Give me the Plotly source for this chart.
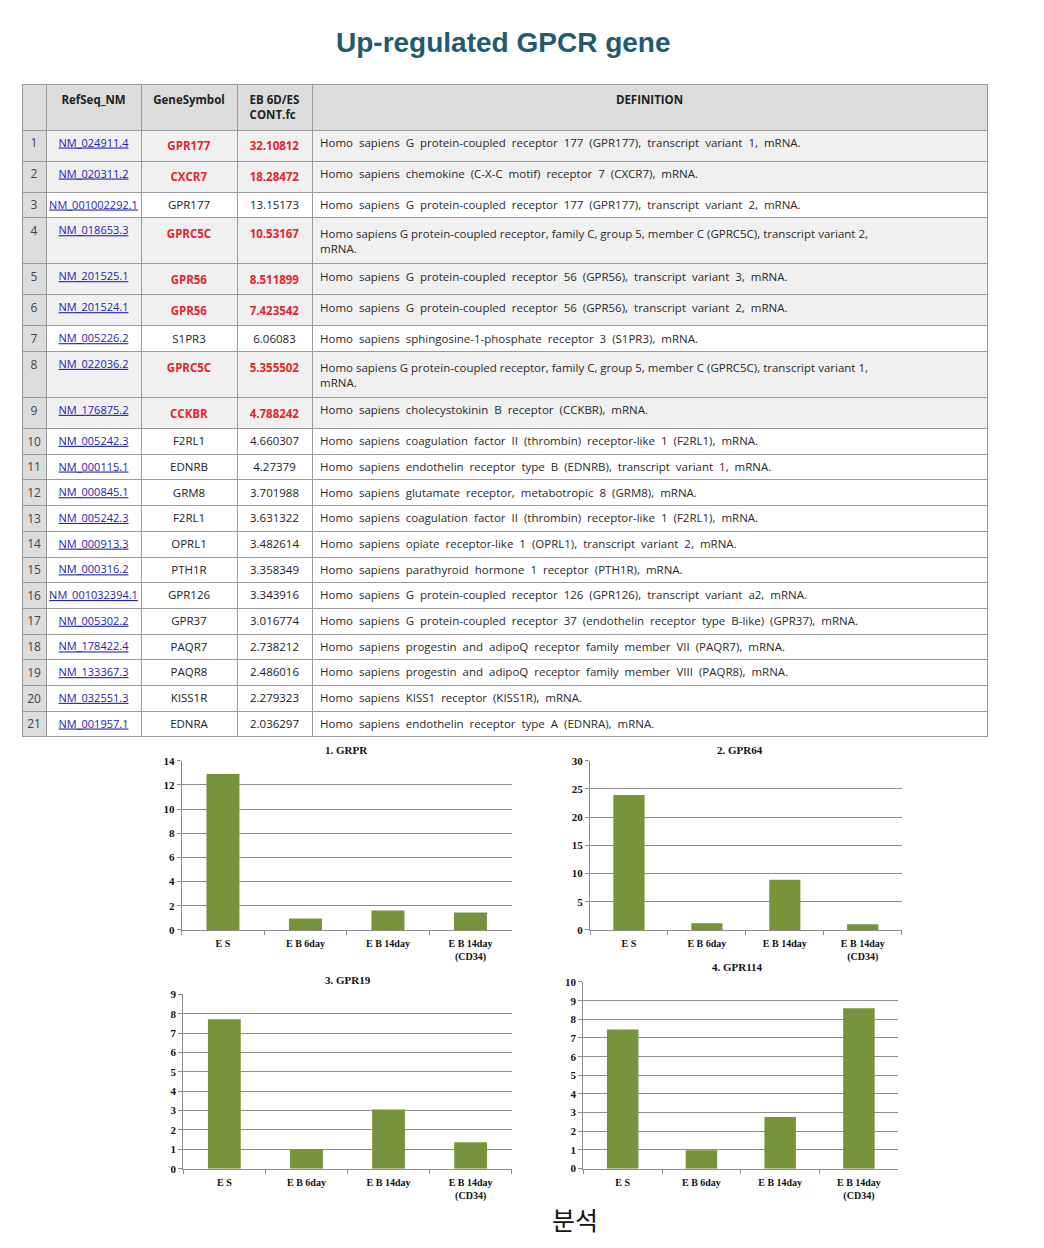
import plotly.graph_objects as go

# ---- table data ----
row_no = list(range(1, 22))
refseq = [
    "NM_024911.4", "NM_020311.2", "NM_001002292.1", "NM_018653.3", "NM_201525.1",
    "NM_201524.1", "NM_005226.2", "NM_022036.2", "NM_176875.2", "NM_005242.3",
    "NM_000115.1", "NM_000845.1", "NM_005242.3", "NM_000913.3", "NM_000316.2",
    "NM_001032394.1", "NM_005302.2", "NM_178422.4", "NM_133367.3", "NM_032551.3",
    "NM_001957.1",
]
gene_symbol = [
    "GPR177", "CXCR7", "GPR177", "GPRC5C", "GPR56", "GPR56", "S1PR3", "GPRC5C",
    "CCKBR", "F2RL1", "EDNRB", "GRM8", "F2RL1", "OPRL1", "PTH1R", "GPR126",
    "GPR37", "PAQR7", "PAQR8", "KISS1R", "EDNRA",
]
fold_change = [
    32.10812, 18.28472, 13.15173, 10.53167, 8.511899, 7.423542, 6.06083, 5.355502,
    4.788242, 4.660307, 4.27379, 3.701988, 3.631322, 3.482614, 3.358349, 3.343916,
    3.016774, 2.738212, 2.486016, 2.279323, 2.036297,
]
highlighted = [1, 1, 0, 1, 1, 1, 0, 1, 1, 0, 0, 0, 0, 0, 0, 0, 0, 0, 0, 0, 0]
definition = [
    "Homo sapiens G protein-coupled receptor 177 (GPR177), transcript variant 1, mRNA.",
    "Homo sapiens chemokine (C-X-C motif) receptor 7 (CXCR7), mRNA.",
    "Homo sapiens G protein-coupled receptor 177 (GPR177), transcript variant 2, mRNA.",
    "Homo sapiens G protein-coupled receptor, family C, group 5, member C (GPRC5C), transcript variant 2,<br>mRNA.",
    "Homo sapiens G protein-coupled receptor 56 (GPR56), transcript variant 3, mRNA.",
    "Homo sapiens G protein-coupled receptor 56 (GPR56), transcript variant 2, mRNA.",
    "Homo sapiens sphingosine-1-phosphate receptor 3 (S1PR3), mRNA.",
    "Homo sapiens G protein-coupled receptor, family C, group 5, member C (GPRC5C), transcript variant 1,<br>mRNA.",
    "Homo sapiens cholecystokinin B receptor (CCKBR), mRNA.",
    "Homo sapiens coagulation factor II (thrombin) receptor-like 1 (F2RL1), mRNA.",
    "Homo sapiens endothelin receptor type B (EDNRB), transcript variant 1, mRNA.",
    "Homo sapiens glutamate receptor, metabotropic 8 (GRM8), mRNA.",
    "Homo sapiens coagulation factor II (thrombin) receptor-like 1 (F2RL1), mRNA.",
    "Homo sapiens opiate receptor-like 1 (OPRL1), transcript variant 2, mRNA.",
    "Homo sapiens parathyroid hormone 1 receptor (PTH1R), mRNA.",
    "Homo sapiens G protein-coupled receptor 126 (GPR126), transcript variant a2, mRNA.",
    "Homo sapiens G protein-coupled receptor 37 (endothelin receptor type B-like) (GPR37), mRNA.",
    "Homo sapiens progestin and adipoQ receptor family member VII (PAQR7), mRNA.",
    "Homo sapiens progestin and adipoQ receptor family member VIII (PAQR8), mRNA.",
    "Homo sapiens KISS1 receptor (KISS1R), mRNA.",
    "Homo sapiens endothelin receptor type A (EDNRA), mRNA.",
]
header = ["", "RefSeq_NM", "GeneSymbol", "EB 6D/ES<br>CONT.fc", "DEFINITION"]

# ---- bar chart data ----
stages = ["E S", "E B 6day", "E B 14day", "E B 14day<br>(CD34)"]
grpr = [12.9, 0.96, 1.62, 1.45]
gpr64 = [23.9, 1.2, 8.9, 1.0]
gpr19 = [7.72, 1.0, 3.05, 1.36]
gpr114 = [7.46, 0.98, 2.77, 8.59]

# page body adds an 8px margin around the plot
OFF = 8
W, H = 1044 - 2 * OFF, 1248 - 2 * OFF
RED = "#e3262d"
GREEN = "#77933c"
GRID = "#8c8c8c"


def px_x(x):
    return (x - OFF) / W


def px_y(y):
    return 1 - (y - OFF) / H


def no_wrap(text):
    # non-breaking spaces keep plotly from re-measuring each row, so the row height holds
    sep = "\u00a0" if "<br>" in text else "\u00a0\u00a0"
    return text.replace(" ", sep)


n = len(row_no)
row_fill = ["#f0f0f0" if h else "white" for h in highlighted]
text_col = [RED if h else "#222222" for h in highlighted]
gene_txt = [f"<b>{g}</b>" if h else g for g, h in zip(gene_symbol, highlighted)]
fc_txt = [f"<b>{v}</b>" if h else v for v, h in zip(fold_change, highlighted)]

table = go.Table(
    domain={"x": [px_x(22), px_x(987)], "y": [px_y(745), px_y(79)]},
    columnwidth=[24, 95, 96, 75, 675],
    header={
        "values": [f"<b>{h}</b>" if h else h for h in header],
        "fill": {"color": "#dcdcdc"},
        "line": {"color": "#9a9a9a", "width": 1},
        "font": {"family": "Open Sans", "size": 11.5, "color": "#222222"},
        "align": "center",
        "height": 38,
    },
    cells={
        "values": [row_no, refseq, gene_txt, fc_txt, [no_wrap(d) for d in definition]],
        "fill": {"color": [["#dcdcdc"] * n, row_fill, row_fill, row_fill, row_fill]},
        "line": {"color": "#9a9a9a", "width": 1},
        "font": {
            "family": "Open Sans",
            "size": [12, 11, 11.5, 11.5, 11.5],
            "color": [["#444444"] * n, ["#2323b0"] * n, text_col, text_col, ["#2a2a2a"] * n],
            "lineposition": ["none", "under", "none", "none", "none"],
        },
        "align": ["center", "center", "center", "center", "left"],
        "height": 25.7,
    },
)

fig = go.Figure(table)

charts = [
    ("1. GRPR", grpr, (181.7, 511.7), (762, 933), 14, 2, (346, 751)),
    ("2. GPR64", gpr64, (590, 901.7), (762, 933), 30, 5, (740, 751)),
    ("3. GPR19", gpr19, (183.3, 511.7), (998, 1174), 9, 1, (348, 983)),
    ("4. GPR114", gpr114, (583.3, 898.3), (985.5, 1174), 10, 1, (737, 970)),
]

tick_font = {"family": "Liberation Serif", "size": 11, "color": "#111111", "weight": "bold"}
annotations = []
for i, (name, vals, (x0, x1), (y0, y1), ymax, dtick, (tx, ty)) in enumerate(charts, start=1):
    suffix = "" if i == 1 else str(i)
    fig.add_trace(
        go.Bar(
            x=stages,
            y=vals,
            marker={"color": GREEN, "line": {"width": 0}},
            xaxis=f"x{suffix}",
            yaxis=f"y{suffix}",
            showlegend=False,
        )
    )
    fig.update_layout(
        {
            f"xaxis{suffix}": {
                "domain": [px_x(x0), px_x(x1)],
                "anchor": f"y{suffix}",
                "showline": True,
                "linecolor": GRID,
                "ticks": "outside",
                "tickson": "boundaries",
                "ticklen": 4,
                "tickcolor": GRID,
                "tickfont": {**tick_font, "size": 10},
                "ticklabelstandoff": 4,
                "showgrid": False,
            },
            f"yaxis{suffix}": {
                "domain": [px_y(y1), px_y(y0)],
                "anchor": f"x{suffix}",
                "range": [0, ymax],
                "dtick": dtick,
                "showline": True,
                "linecolor": GRID,
                "ticks": "outside",
                "ticklen": 4,
                "tickcolor": GRID,
                "tickfont": tick_font,
                "gridcolor": GRID,
                "gridwidth": 1,
                "zeroline": False,
            },
        }
    )
    annotations.append(
        {
            "text": f"<b>{name}</b>",
            "x": px_x(tx),
            "y": px_y(ty),
            "xanchor": "center",
            "yanchor": "middle",
            "font": {"family": "Liberation Serif", "size": 11, "color": "#111111"},
        }
    )

annotations.append(
    {
        "text": "<b>Up-regulated GPCR gene</b>",
        "x": px_x(503),
        "y": px_y(37),
        "xanchor": "center",
        "yanchor": "middle",
        "font": {"family": "Liberation Sans", "size": 28, "color": "#235b6b"},
    }
)
annotations.append(
    {
        "text": "분석",
        "x": px_x(575),
        "y": px_y(1225),
        "xanchor": "center",
        "yanchor": "middle",
        "font": {"family": "Noto Sans CJK KR", "size": 25, "color": "#111111"},
    }
)
for a in annotations:
    a.update(xref="paper", yref="paper", showarrow=False)

fig.update_layout(
    width=W,
    height=H,
    margin={"l": 0, "r": 0, "t": 0, "b": 0},
    paper_bgcolor="white",
    plot_bgcolor="white",
    bargap=0.6,
    annotations=annotations,
)

fig.write_html("out.html")
